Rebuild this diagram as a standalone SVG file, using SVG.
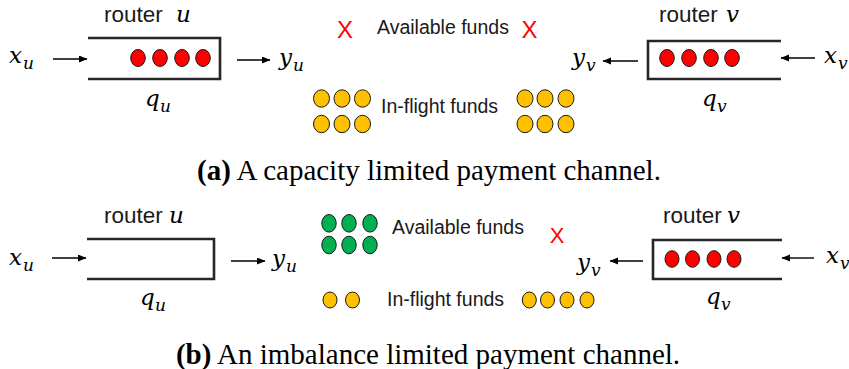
<svg xmlns="http://www.w3.org/2000/svg" width="849" height="369" viewBox="0 0 849 369">
<defs>
<marker id="ah" markerUnits="userSpaceOnUse" markerWidth="9" markerHeight="8" refX="8" refY="3.5" orient="auto">
<path d="M0,0 L8.5,3.5 L0,7 z" fill="#000"/>
</marker>
<style>
.box{fill:none;stroke:#262626;stroke-width:2.6}
.arr{stroke:#000;stroke-width:1.4;fill:none;marker-end:url(#ah)}
.red{fill:#ff0000;stroke:#1a1a1a;stroke-width:1}
.org{fill:#ffc000;stroke:#1a1a1a;stroke-width:1}
.grn{fill:#00b050;stroke:#1a1a1a;stroke-width:1}
.lab{font-family:"Liberation Sans",Arial,sans-serif;font-size:19.5px;fill:#1a1a1a}
.rt{font-family:"Liberation Sans",Arial,sans-serif;font-size:22.5px;fill:#1a1a1a}
.m{font-family:"DejaVu Serif",serif;font-style:italic;font-size:23px;fill:#000}
.s{font-family:"DejaVu Serif",serif;font-style:italic;font-size:17px;fill:#000}
.x{font-family:"Liberation Sans",Arial,sans-serif;font-size:24px;fill:#ff0000;text-anchor:middle}
.cap{font-family:"Liberation Serif","Times New Roman",serif;font-size:29px;fill:#000;text-anchor:middle}
</style>
</defs>

<!-- Panel (a) -->
<g id="a-router-u">
<text class="rt" x="104" y="22">router</text><text class="m" x="176" y="22">u</text>
<path class="box" d="M88,38 L220,38 L220,79 L88,79"/>
<ellipse class="red" cx="138" cy="58" rx="7.3" ry="8.5"/>
<ellipse class="red" cx="160" cy="58" rx="7.3" ry="8.5"/>
<ellipse class="red" cx="182" cy="58" rx="7.3" ry="8.5"/>
<ellipse class="red" cx="203" cy="58" rx="7.3" ry="8.5"/>
<text class="m" x="145" y="106">q</text><text class="s" x="160" y="112">u</text>
</g>
<g id="a-xu"><text class="m" x="9" y="63">x</text><text class="s" x="23" y="69">u</text></g>
<g id="a-yu"><text class="m" x="279" y="65">y</text><text class="s" x="293" y="71">u</text></g>
<g id="a-router-v">
<text class="rt" x="659" y="22">router</text><text class="m" x="726" y="22">v</text>
<path class="box" d="M781,41 L648,41 L648,79 L781,79"/>
<ellipse class="red" cx="667" cy="58" rx="7.3" ry="8.5"/>
<ellipse class="red" cx="689" cy="58" rx="7.3" ry="8.5"/>
<ellipse class="red" cx="711" cy="58" rx="7.3" ry="8.5"/>
<ellipse class="red" cx="732" cy="58" rx="7.3" ry="8.5"/>
<text class="m" x="702" y="106">q</text><text class="s" x="717" y="112">v</text>
</g>
<g id="a-xv"><text class="m" x="824" y="63">x</text><text class="s" x="838" y="69">v</text></g>
<g id="a-yv"><text class="m" x="572" y="65">y</text><text class="s" x="586" y="71">v</text></g>
<g id="a-available">
<text class="x" x="345" y="37.5">X</text>
<text class="lab" x="377" y="34">Available funds</text>
<text class="x" x="529.5" y="37.5">X</text>
</g>
<g id="a-inflight">
<ellipse class="org" cx="321.5" cy="98.5" rx="8" ry="8.7"/>
<ellipse class="org" cx="342" cy="98.5" rx="8" ry="8.7"/>
<ellipse class="org" cx="362.5" cy="98.5" rx="8" ry="8.7"/>
<ellipse class="org" cx="321.5" cy="124" rx="8" ry="8.7"/>
<ellipse class="org" cx="342" cy="124" rx="8" ry="8.7"/>
<ellipse class="org" cx="362.5" cy="124" rx="8" ry="8.7"/>
<text class="lab" x="381" y="113">In-flight funds</text>
<ellipse class="org" cx="525" cy="98.5" rx="8" ry="8.7"/>
<ellipse class="org" cx="545" cy="98.5" rx="8" ry="8.7"/>
<ellipse class="org" cx="566" cy="98.5" rx="8" ry="8.7"/>
<ellipse class="org" cx="525" cy="124" rx="8" ry="8.7"/>
<ellipse class="org" cx="545" cy="124" rx="8" ry="8.7"/>
<ellipse class="org" cx="566" cy="124" rx="8" ry="8.7"/>
</g>
<text id="cap-a" class="cap" x="429" y="180"><tspan font-weight="bold">(a)</tspan> A capacity limited payment channel.</text>

<!-- Panel (b) -->
<g id="b-router-u">
<text class="rt" x="104" y="223">router</text><text class="m" x="169" y="223">u</text>
<path class="box" d="M87,239 L214,239 L214,279 L87,279"/>
<text class="m" x="140" y="305">q</text><text class="s" x="155" y="311">u</text>
</g>
<g id="b-xu"><text class="m" x="9" y="265">x</text><text class="s" x="23" y="271">u</text></g>
<g id="b-yu"><text class="m" x="272" y="266">y</text><text class="s" x="286" y="272">u</text></g>
<g id="b-router-v">
<text class="rt" x="663" y="223">router</text><text class="m" x="727" y="223">v</text>
<path class="box" d="M782,240 L653,240 L653,279 L782,279"/>
<ellipse class="red" cx="672" cy="259" rx="7" ry="8.3"/>
<ellipse class="red" cx="692.5" cy="259" rx="7" ry="8.3"/>
<ellipse class="red" cx="714" cy="259" rx="7" ry="8.3"/>
<ellipse class="red" cx="734" cy="259" rx="7" ry="8.3"/>
<text class="m" x="706" y="304">q</text><text class="s" x="721" y="310">v</text>
</g>
<g id="b-xv"><text class="m" x="826" y="263">x</text><text class="s" x="840" y="269">v</text></g>
<g id="b-yv"><text class="m" x="577" y="270">y</text><text class="s" x="591" y="276">v</text></g>
<g id="b-available">
<ellipse class="grn" cx="329" cy="223.3" rx="7.2" ry="8.8"/>
<ellipse class="grn" cx="349" cy="223.3" rx="7.2" ry="8.8"/>
<ellipse class="grn" cx="370" cy="223.3" rx="7.2" ry="8.8"/>
<ellipse class="grn" cx="329" cy="245" rx="7.2" ry="8.8"/>
<ellipse class="grn" cx="349" cy="245" rx="7.2" ry="8.8"/>
<ellipse class="grn" cx="370" cy="245" rx="7.2" ry="8.8"/>
<text class="lab" x="392" y="234">Available funds</text>
<text class="x" x="557" y="242.5" style="font-size:22px">X</text>
</g>
<g id="b-inflight">
<ellipse class="org" cx="330" cy="300" rx="7" ry="8"/>
<ellipse class="org" cx="352.5" cy="300" rx="7" ry="8"/>
<text class="lab" x="387" y="306">In-flight funds</text>
<ellipse class="org" cx="529.3" cy="300" rx="7" ry="8"/>
<ellipse class="org" cx="547.5" cy="300" rx="7" ry="8"/>
<ellipse class="org" cx="567" cy="300" rx="7" ry="8"/>
<ellipse class="org" cx="587" cy="300" rx="7" ry="8"/>
</g>
<text id="cap-b" class="cap" x="428" y="364"><tspan font-weight="bold">(b)</tspan> An imbalance limited payment channel.</text>

<g id="connectors">
<line class="arr" x1="53" y1="59" x2="87" y2="59"/>
<line class="arr" x1="237" y1="60" x2="270" y2="60"/>
<line class="arr" x1="638" y1="61" x2="603" y2="61"/>
<line class="arr" x1="815" y1="58" x2="781" y2="58"/>
<line class="arr" x1="52" y1="258" x2="86" y2="258"/>
<line class="arr" x1="231" y1="261" x2="265" y2="261"/>
<line class="arr" x1="643" y1="261" x2="610" y2="261"/>
<line class="arr" x1="814" y1="258" x2="782" y2="258"/>
</g>
</svg>
